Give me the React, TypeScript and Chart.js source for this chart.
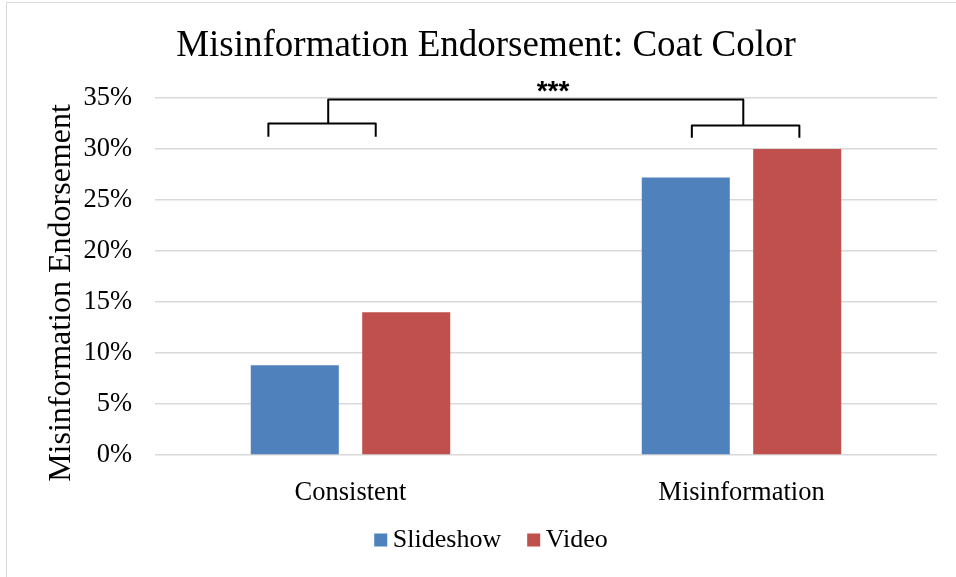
import React, { useEffect, useRef } from "react";
import { Chart, registerables } from "chart.js";

Chart.register(...registerables);

// ---- data ----
const categories = ["Consistent", "Misinformation"];
const seriesNames = ["Slideshow", "Video"];
const slideshowValues = [8.8, 27.2];
const videoValues = [14.0, 30.0];
const yMin = 0;
const yMax = 35;
const yStep = 5;

// ---- text ----
const chartTitle = "Misinformation Endorsement: Coat Color";
const yAxisTitle = "Misinformation Endorsement";
const significanceLabel = "***";

// ---- colours ----
const seriesColors = ["#4F81BD", "#C0504D"];
const gridColor = "#d9d9d9";

// ---- significance brackets (x in category units, y in percent) ----
const groupBrackets = [
  { from: -0.21, to: 0.0645, stem: -0.057, level: 32.5, foot: 31.2 },
  { from: 0.873, to: 1.148, stem: 1.0046, level: 32.3, foot: 31.1 },
];
const spanLevel = 34.85;
const labelAt = { x: 0.518, y: 35.6 };

const SERIF = "'Liberation Serif', 'Times New Roman', serif";
const SANS = "'Liberation Sans', Arial, sans-serif";

const overlayPlugin = {
  id: "overlay",
  afterDraw(chart: any) {
    const { ctx } = chart;
    const xs = chart.scales.x;
    const ys = chart.scales.y;
    ctx.save();
    ctx.fillStyle = "#000";

    // chart title
    ctx.font = `37px ${SERIF}`;
    ctx.textAlign = "center";
    ctx.textBaseline = "alphabetic";
    ctx.fillText(chartTitle, 486, 56);

    // vertical axis title
    ctx.save();
    ctx.translate(70, 293);
    ctx.rotate(-Math.PI / 2);
    ctx.font = `32px ${SERIF}`;
    ctx.fillText(yAxisTitle, 0, 0);
    ctx.restore();

    // brackets
    const px = (v: number) => xs.getPixelForValue(v);
    const py = (v: number) => ys.getPixelForValue(v);
    ctx.strokeStyle = "#000";
    ctx.lineWidth = 2;
    ctx.lineJoin = "round";
    ctx.lineCap = "butt";
    groupBrackets.forEach((b) => {
      ctx.beginPath();
      ctx.moveTo(px(b.from), py(b.foot));
      ctx.lineTo(px(b.from), py(b.level));
      ctx.lineTo(px(b.to), py(b.level));
      ctx.lineTo(px(b.to), py(b.foot));
      ctx.stroke();
    });
    ctx.beginPath();
    ctx.moveTo(px(groupBrackets[0].stem), py(groupBrackets[0].level));
    ctx.lineTo(px(groupBrackets[0].stem), py(spanLevel));
    ctx.lineTo(px(groupBrackets[1].stem), py(spanLevel));
    ctx.lineTo(px(groupBrackets[1].stem), py(groupBrackets[1].level));
    ctx.stroke();

    ctx.font = `bold 28px ${SANS}`;
    ctx.textAlign = "center";
    ctx.textBaseline = "middle";
    ctx.fillText(significanceLabel, px(labelAt.x), py(labelAt.y));

    // legend
    ctx.font = `26px ${SERIF}`;
    ctx.textAlign = "left";
    ctx.textBaseline = "alphabetic";
    const box = 13;
    const gap = 5.6;
    const itemGap = 26;
    const items = chart.data.datasets.map((d: any) => ({
      label: d.label,
      color: d.backgroundColor,
      w: box + gap + ctx.measureText(d.label).width,
    }));
    const total =
      items.reduce((s: number, it: any) => s + it.w, 0) + itemGap * (items.length - 1);
    let lx = 491 - total / 2;
    items.forEach((it: any) => {
      ctx.fillStyle = it.color;
      ctx.fillRect(lx, 533.5, box, box);
      ctx.fillStyle = "#000";
      ctx.fillText(it.label, lx + box + gap, 546.5);
      lx += it.w + itemGap;
    });

    ctx.restore();
  },
};

export default function App() {
  const canvasRef = useRef<HTMLCanvasElement | null>(null);

  useEffect(() => {
    if (!canvasRef.current) return;
    const chart = new Chart(canvasRef.current, {
      type: "bar",
      data: {
        labels: categories,
        datasets: [
          {
            label: seriesNames[0],
            data: slideshowValues,
            backgroundColor: seriesColors[0],
            categoryPercentage: 0.57,
            barPercentage: 0.79,
          },
          {
            label: seriesNames[1],
            data: videoValues,
            backgroundColor: seriesColors[1],
            categoryPercentage: 0.57,
            barPercentage: 0.79,
          },
        ],
      },
      options: {
        responsive: false,
        animation: false,
        devicePixelRatio: 1,
        layout: { padding: { top: 98, right: 19, left: 0, bottom: 0 } },
        plugins: {
          legend: { display: false },
          title: { display: false },
          tooltip: { enabled: false },
        },
        scales: {
          x: {
            grid: { display: false },
            border: { display: false },
            ticks: {
              color: "#000",
              font: { family: SERIF, size: 26.5 },
              padding: 14,
            },
            afterFit: (scale: any) => {
              scale.height = 122;
            },
          },
          y: {
            min: yMin,
            max: yMax,
            grid: { color: gridColor, lineWidth: 1.5, drawTicks: false },
            border: { display: false },
            ticks: {
              stepSize: yStep,
              color: "#000",
              font: { family: SERIF, size: 26.5 },
              padding: 23,
              callback: (v: any) => `${v}%`,
            },
            afterFit: (scale: any) => {
              scale.width = 155;
            },
          },
        },
      },
      plugins: [overlayPlugin],
    });
    return () => chart.destroy();
  }, []);

  return (
    <>
      <div
        style={{
          position: "fixed",
          left: 6,
          top: 2,
          width: 980,
          height: 600,
          border: `1px solid ${gridColor}`,
          boxSizing: "border-box",
        }}
      />
      <canvas
        ref={canvasRef}
        width={956}
        height={577}
        style={{ position: "fixed", left: 0, top: 0, width: 956, height: 577 }}
      />
    </>
  );
}
